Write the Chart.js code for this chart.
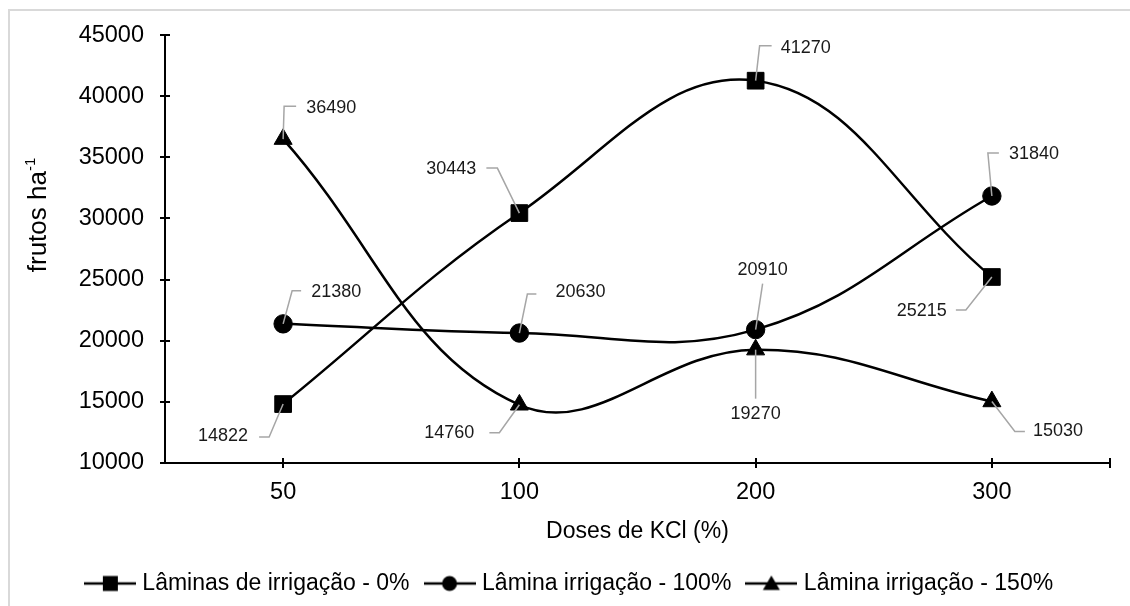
<!DOCTYPE html>
<html><head><meta charset="utf-8">
<script src="https://cdn.jsdelivr.net/npm/chart.js@4.4.0/dist/chart.umd.min.js"></script>
<style>
html,body{margin:0;padding:0;background:#fff;overflow:hidden;}
#wrap{position:relative;width:1130px;height:606px;overflow:hidden;}
#frame{position:absolute;left:8px;top:9px;width:1300px;height:800px;border-top:2px solid #d9d9d9;border-left:2px solid #d9d9d9;}
canvas{position:absolute;left:0;top:0;}
</style></head>
<body><div id="wrap"><div id="frame"></div><canvas id="c" width="1130" height="606"></canvas></div>
<script>
// ---- data ----
const categories = ['50', '100', '200', '300'];
const seriesNames = ['Lâminas de irrigação - 0%', 'Lâmina irrigação - 100%', 'Lâmina irrigação - 150%'];
const lamina0 = [14822, 30443, 41270, 25215];
const lamina100 = [21380, 20630, 20910, 31840];
const lamina150 = [36490, 14760, 19270, 15030];
const yMin = 10000, yMax = 45000, yStep = 5000;
const xTitle = 'Doses de KCl (%)';
const yTitleMain = 'frutos ha', yTitleSup = '-1';

// ---- label placement (offsets from each point, in px) ----
const labelPlacement = [
  [ {tx:-35, ty:32, align:'right', knee:[-14,33], end:[-24,33]},
    {tx:-43, ty:-44, align:'right', knee:[-22,-45], end:[-33,-45]},
    {tx:25, ty:-33, align:'left', knee:[4,-35], end:[16,-35]},
    {tx:-45, ty:34, align:'right', knee:[-26,33], end:[-36,33]} ],
  [ {tx:28, ty:-32, align:'left', knee:[9,-33], end:[18,-33]},
    {tx:36, ty:-41, align:'left', knee:[8,-39], end:[17,-39]},
    {tx:7, ty:-60, align:'center', knee:[7,-46], end:[7,-46]},
    {tx:17, ty:-42, align:'left', knee:[-4,-43], end:[7,-43]} ],
  [ {tx:23, ty:-31, align:'left', knee:[1,-33], end:[13,-33]},
    {tx:-45, ty:28, align:'right', knee:[-20,28], end:[-30,28]},
    {tx:0, ty:64, align:'center', knee:[0,49], end:[0,49]},
    {tx:41, ty:30, align:'left', knee:[23,30], end:[33,30]} ]
];

const FONT = '"Liberation Sans", Arial, sans-serif';

function legendIcon(shape) {
  const c = document.createElement('canvas');
  c.width = 52; c.height = 20;
  const g = c.getContext('2d');
  g.strokeStyle = '#000'; g.lineWidth = 2.5;
  g.beginPath(); g.moveTo(0, 10); g.lineTo(52, 10); g.stroke();
  g.fillStyle = '#000';
  if (shape === 'rect') { g.fillRect(19, 2.5, 15, 15); }
  else if (shape === 'circle') { g.beginPath(); g.arc(26, 10, 7.5, 0, Math.PI * 2); g.fill(); }
  else { g.beginPath(); g.moveTo(26, 2); g.lineTo(34.5, 16.5); g.lineTo(17.5, 16.5); g.closePath(); g.fill(); }
  return c;
}
const shapes = ['rect', 'circle', 'triangle'];
const radii = [11.8, 9.2, 10.4];

function mkSet(i, data) {
  return {
    label: seriesNames[i], data: data,
    borderColor: '#000', backgroundColor: '#000', borderWidth: 2.5,
    pointStyle: shapes[i], pointRadius: radii[i], pointHoverRadius: radii[i],
    pointBackgroundColor: '#000', pointBorderColor: '#000', pointBorderWidth: 1,
    tension: 0.4, fill: false
  };
}

const axisExtras = {
  id: 'axisExtras',
  afterDatasetsDraw(chart) {
    const ctx = chart.ctx;
    ctx.save();
    ctx.font = '18px ' + FONT;
    ctx.textBaseline = 'middle';
    chart.data.datasets.forEach((ds, di) => {
      const meta = chart.getDatasetMeta(di);
      meta.data.forEach((pt, i) => {
        const p = labelPlacement[di][i];
        ctx.strokeStyle = '#a6a6a6'; ctx.lineWidth = 1.5;
        ctx.beginPath();
        ctx.moveTo(pt.x, pt.y);
        ctx.lineTo(pt.x + p.knee[0], pt.y + p.knee[1]);
        ctx.lineTo(pt.x + p.end[0], pt.y + p.end[1]);
        ctx.stroke();
        ctx.fillStyle = '#1a1a1a';
        ctx.textAlign = p.align;
        ctx.fillText(String(ds.data[i]), pt.x + p.tx, pt.y + p.ty);
      });
    });
    ctx.restore();
  },
  afterDraw(chart) {
    const ctx = chart.ctx, xs = chart.scales.x, ys = chart.scales.y;
    const ca = chart.chartArea;
    ctx.save();
    ctx.strokeStyle = '#000'; ctx.lineWidth = 2;
    ctx.beginPath();
    ys.ticks.forEach(t => {
      const y = Math.round(ys.getPixelForValue(t.value));
      ctx.moveTo(ca.left - 5, y); ctx.lineTo(ca.left + 5, y);
    });
    const xt = categories.map((c, i) => xs.getPixelForValue(i));
    xt.push(ca.right);
    xt.forEach(x => { x = Math.round(x); ctx.moveTo(x, ca.bottom - 5); ctx.lineTo(x, ca.bottom + 5); });
    ctx.stroke();
    // y title with superscript
    const big = '26px ' + FONT, small = '15px ' + FONT;
    ctx.font = big; const w1 = ctx.measureText(yTitleMain).width;
    ctx.font = small; const w2 = ctx.measureText(yTitleSup).width;
    const total = w1 + w2;
    ctx.translate(37, 215);
    ctx.rotate(-Math.PI / 2);
    ctx.fillStyle = '#000';
    ctx.textBaseline = 'alphabetic'; ctx.textAlign = 'left';
    ctx.font = big; ctx.fillText(yTitleMain, -total / 2, 9);
    ctx.font = small; ctx.fillText(yTitleSup, -total / 2 + w1, -2);
    ctx.restore();
  }
};

new Chart(document.getElementById('c'), {
  type: 'line',
  data: {
    labels: categories,
    datasets: [mkSet(0, lamina0), mkSet(1, lamina100), mkSet(2, lamina150)]
  },
  options: {
    responsive: false, animation: false,
    layout: { padding: { top: 31, left: 32, right: 20, bottom: 1 } },
    plugins: {
      tooltip: { enabled: false },
      legend: {
        position: 'bottom',
        labels: {
          usePointStyle: true, pointStyleWidth: 42, padding: 19,
          color: '#000', font: { family: FONT, size: 23 },
          generateLabels(chart) {
            const items = Chart.defaults.plugins.legend.labels.generateLabels(chart);
            items.forEach((it, i) => { it.pointStyle = legendIcon(shapes[i]); });
            return items;
          }
        }
      }
    },
    scales: {
      x: {
        type: 'category', offset: true,
        grid: { display: false, drawTicks: false, offset: true },
        border: { display: true, color: '#000', width: 2 },
        ticks: { color: '#000', font: { family: FONT, size: 23.5 }, padding: 15 },
        title: { display: true, text: xTitle, color: '#000', font: { family: FONT, size: 23 }, padding: { top: 0, bottom: 8 } },
        afterFit(s) { s.height = 90; }
      },
      y: {
        min: yMin, max: yMax,
        grid: { display: false, drawTicks: false },
        border: { display: true, color: '#000', width: 2 },
        ticks: { stepSize: yStep, color: '#000', font: { family: FONT, size: 23.5 }, padding: 21,
                 callback: v => String(v) },
        afterFit(s) { s.width = 133; }
      }
    }
  },
  plugins: [axisExtras]
});
</script>
</body></html>
